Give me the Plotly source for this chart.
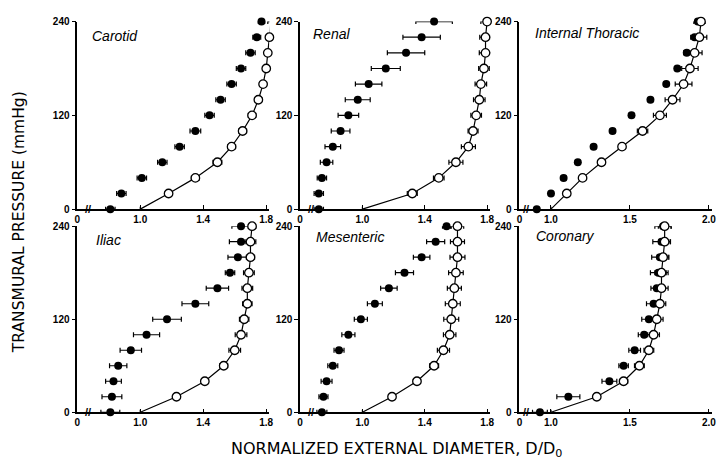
import plotly.graph_objects as go

# Transmural pressure levels (mmHg)
pressure = [0, 20, 40, 60, 80, 100, 120, 140, 160, 180, 200, 220, 240]

# Normalized external diameter D/D0 (filled = constricted, open = relaxed) with +/- error
carotid_filled = [0.81, 0.88, 1.01, 1.14, 1.25, 1.35, 1.44, 1.51, 1.58, 1.64, 1.70, 1.74, 1.77]
carotid_filled_err = [0.03, 0.03, 0.03, 0.03, 0.03, 0.034, 0.03, 0.03, 0.03, 0.03, 0.03, 0.025, 0.02]
carotid_open = [1.00, 1.18, 1.35, 1.49, 1.58, 1.65, 1.71, 1.75, 1.78, 1.80, 1.81, 1.82, 1.83]
carotid_open_err = [0, 0.02, 0.025, 0.028, 0.025, 0.025, 0.024, 0.022, 0.022, 0.02, 0.02, 0.02, 0.02]

renal_filled = [0.72, 0.72, 0.74, 0.77, 0.81, 0.86, 0.91, 0.97, 1.04, 1.15, 1.28, 1.38, 1.46]
renal_filled_err = [0.03, 0.03, 0.03, 0.04, 0.05, 0.06, 0.066, 0.08, 0.085, 0.093, 0.12, 0.12, 0.117]
renal_open = [1.00, 1.32, 1.49, 1.60, 1.68, 1.71, 1.73, 1.75, 1.76, 1.78, 1.79, 1.79, 1.80]
renal_open_err = [0, 0.032, 0.034, 0.045, 0.045, 0.032, 0.034, 0.037, 0.037, 0.034, 0.04, 0.037, 0.04]

thoracic_filled = [0.91, 1.00, 1.08, 1.17, 1.27, 1.39, 1.51, 1.63, 1.73, 1.80, 1.86, 1.91, 1.93]
thoracic_filled_err = [0.015, 0.015, 0.015, 0.015, 0.015, 0.015, 0.015, 0.015, 0.015, 0.015, 0.02, 0.025, 0.025]
thoracic_open = [1.00, 1.10, 1.20, 1.32, 1.45, 1.58, 1.69, 1.77, 1.84, 1.88, 1.91, 1.94, 1.95]
thoracic_open_err = [0, 0.015, 0.015, 0.02, 0.02, 0.033, 0.041, 0.047, 0.053, 0.052, 0.047, 0.047, 0.026]

iliac_filled = [0.81, 0.82, 0.83, 0.86, 0.94, 1.04, 1.17, 1.35, 1.49, 1.57, 1.62, 1.64, 1.64]
iliac_filled_err = [0.06, 0.063, 0.05, 0.055, 0.068, 0.083, 0.091, 0.085, 0.071, 0.03, 0.063, 0.074, 0.058]
iliac_open = [1.00, 1.23, 1.41, 1.53, 1.60, 1.64, 1.66, 1.68, 1.68, 1.69, 1.70, 1.70, 1.71]
iliac_open_err = [0, 0.015, 0.02, 0.025, 0.037, 0.037, 0.03, 0.03, 0.034, 0.034, 0.026, 0.034, 0.024]

mesenteric_filled = [0.74, 0.75, 0.77, 0.81, 0.85, 0.91, 0.99, 1.08, 1.17, 1.27, 1.38, 1.47, 1.54]
mesenteric_filled_err = [0.032, 0.029, 0.035, 0.032, 0.032, 0.042, 0.042, 0.048, 0.053, 0.058, 0.053, 0.058, 0.026]
mesenteric_open = [1.00, 1.19, 1.35, 1.46, 1.52, 1.56, 1.57, 1.58, 1.59, 1.60, 1.61, 1.61, 1.61]
mesenteric_open_err = [0, 0.01, 0.023, 0.029, 0.039, 0.04, 0.048, 0.048, 0.045, 0.047, 0.048, 0.045, 0.04]

coronary_filled = [0.93, 1.11, 1.37, 1.46, 1.53, 1.59, 1.62, 1.65, 1.67, 1.68, 1.69, 1.70, 1.71]
coronary_filled_err = [0.047, 0.073, 0.047, 0.03, 0.037, 0.037, 0.045, 0.045, 0.037, 0.05, 0.052, 0.055, 0.052]
coronary_open = [1.00, 1.29, 1.46, 1.56, 1.62, 1.65, 1.67, 1.69, 1.70, 1.70, 1.71, 1.72, 1.72]
coronary_open_err = [0, 0.01, 0.026, 0.031, 0.031, 0.037, 0.04, 0.037, 0.042, 0.042, 0.037, 0.037, 0.04]

panel_names = ["Carotid", "Renal", "Internal Thoracic", "Iliac", "Mesenteric", "Coronary"]

# x tick labels: left tick is the broken-axis origin "0"
ticks_low = [0.6, 1.0, 1.4, 1.8]
ticks_low_text = ["0", "1.0", "1.4", "1.8"]
ticks_high = [0.8, 1.0, 1.5, 2.0]
ticks_high_text = ["0", "1.0", "1.5", "2.0"]
y_ticks = [0, 120, 240]
y_ticks_text = ["0", "120", "240"]

panels = [
    (carotid_filled, carotid_filled_err, carotid_open, carotid_open_err),
    (renal_filled, renal_filled_err, renal_open, renal_open_err),
    (thoracic_filled, thoracic_filled_err, thoracic_open, thoracic_open_err),
    (iliac_filled, iliac_filled_err, iliac_open, iliac_open_err),
    (mesenteric_filled, mesenteric_filled_err, mesenteric_open, mesenteric_open_err),
    (coronary_filled, coronary_filled_err, coronary_open, coronary_open_err),
]

W, H = 717, 467
col_px = [(75, 269), (300, 492), (521.5, 716)]
row_px = [(16, 208.5), (226, 417)]
col_range = [[0.6, 1.82], [0.6, 1.82], [0.8, 2.02]]
col_ticks = [(ticks_low, ticks_low_text), (ticks_low, ticks_low_text), (ticks_high, ticks_high_text)]
break_x = [0.67, 0.67, 0.84]
title_dx = [0.067, 0.058, 0.072, 0.088, 0.072, 0.074]
title_y = [222, 224, 226, 222, 226, 227]

tick_font = dict(family="Liberation Sans", size=10, color="black", weight="bold")

fig = go.Figure()
layout = dict(
    width=W, height=H,
    margin=dict(l=0, r=0, t=0, b=0),
    paper_bgcolor="white", plot_bgcolor="white",
    showlegend=False,
    annotations=[],
)

for i, (filled, filled_err, opened, opened_err) in enumerate(panels):
    r, c = divmod(i, 3)
    n = "" if i == 0 else str(i + 1)
    xa, ya = "x" + n, "y" + n

    # constricted vessel: filled symbols
    fig.add_trace(go.Scatter(
        x=filled, y=pressure, xaxis=xa, yaxis=ya, mode="markers",
        marker=dict(symbol="circle", size=8, color="black"),
        error_x=dict(type="data", array=filled_err, color="black", thickness=1.2, width=2.5),
        cliponaxis=False,
    ))
    # relaxed vessel: connecting curve and error bars
    fig.add_trace(go.Scatter(
        x=opened, y=pressure, xaxis=xa, yaxis=ya, mode="lines",
        line=dict(color="black", width=1.2),
        error_x=dict(type="data", array=opened_err, color="black", thickness=1.2, width=2.5),
        cliponaxis=False,
    ))
    # relaxed vessel: open symbols on top (none at the zero-pressure origin)
    fig.add_trace(go.Scatter(
        x=opened[1:], y=pressure[1:], xaxis=xa, yaxis=ya, mode="markers",
        marker=dict(symbol="circle", size=8.5, color="white",
                    line=dict(color="black", width=1.3)),
        cliponaxis=False,
    ))

    x0, x1 = col_px[c]
    y0, y1 = row_px[r]
    tv, tt = col_ticks[c]
    layout["xaxis" + n] = dict(
        domain=[x0 / W, x1 / W], range=col_range[c], anchor=ya,
        showline=True, linecolor="black", linewidth=1.5, mirror=False,
        showgrid=False, zeroline=False,
        tickmode="array", tickvals=tv, ticktext=tt,
        ticks="inside", ticklen=4, tickwidth=1.3, tickcolor="black",
        tickfont=tick_font,
    )
    layout["yaxis" + n] = dict(
        domain=[1 - y1 / H, 1 - y0 / H], range=[0, 240], anchor=xa,
        showline=True, linecolor="black", linewidth=1.5,
        showgrid=False, zeroline=False,
        tickmode="array", tickvals=y_ticks, ticktext=y_ticks_text,
        ticks="outside", ticklen=4, tickwidth=1.3, tickcolor="black",
        tickfont=tick_font,
    )
    # panel name
    layout["annotations"].append(dict(
        text=panel_names[i], xref=xa + " domain", yref=ya,
        x=title_dx[i], y=title_y[i], xanchor="left", yanchor="middle",
        showarrow=False,
        font=dict(family="Liberation Sans", size=14, color="black", style="italic"),
    ))
    # axis break mark
    layout["annotations"].append(dict(
        text="//", xref=xa, yref=ya, x=break_x[c], y=0,
        xanchor="center", yanchor="middle", showarrow=False,
        font=dict(family="Liberation Sans", size=11, color="black", weight="bold"),
    ))

layout["annotations"].append(dict(
    text="TRANSMURAL PRESSURE (mmHg)", xref="paper", yref="paper",
    x=16 / W, y=1 - 222 / H, xanchor="center", yanchor="middle",
    textangle=-90, showarrow=False,
    font=dict(family="DejaVu Sans", size=15.5, color="black"),
))
layout["annotations"].append(dict(
    text="NORMALIZED EXTERNAL DIAMETER, D/D<sub>0</sub>", xref="paper", yref="paper",
    x=397 / W, y=1 - 455 / H, xanchor="center", yanchor="middle",
    showarrow=False,
    font=dict(family="DejaVu Sans", size=16, color="black"),
))

fig.update_layout(**layout)
fig.write_html("out.html")
